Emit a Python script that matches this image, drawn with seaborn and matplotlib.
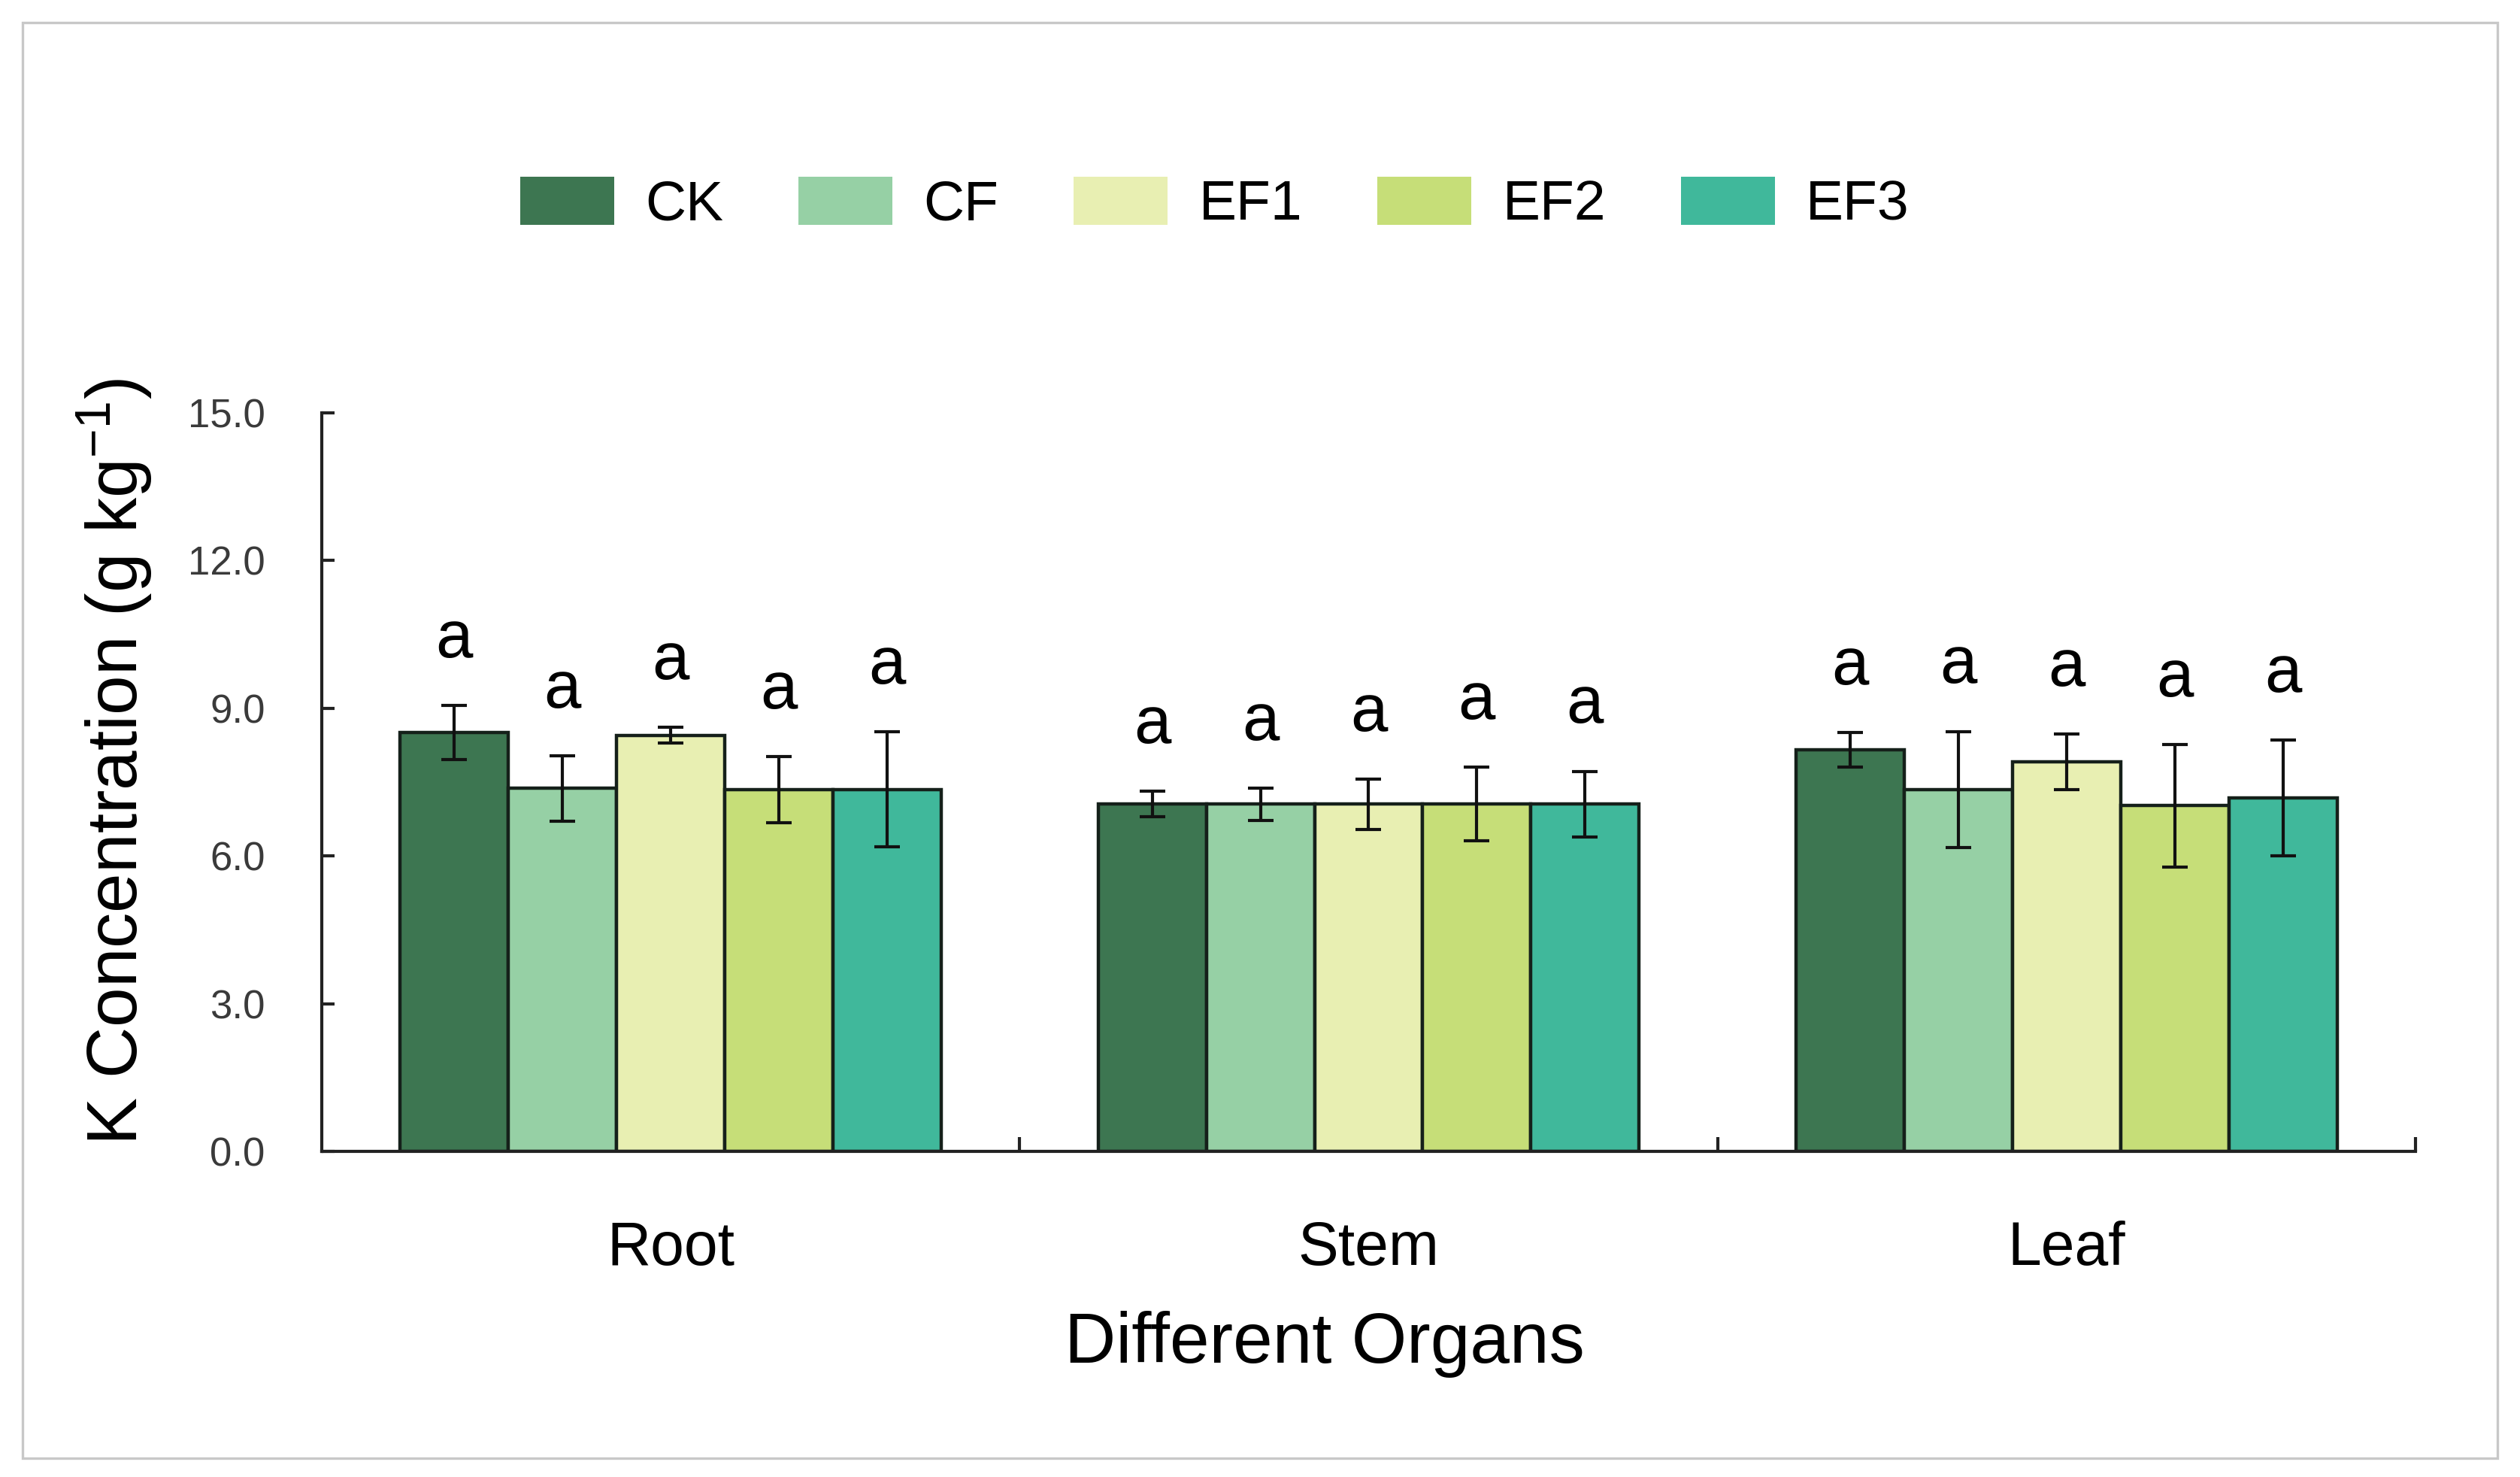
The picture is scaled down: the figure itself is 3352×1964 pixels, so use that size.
import numpy as np
import pandas as pd
import seaborn as sns
import matplotlib.pyplot as plt
from matplotlib.patches import Patch, Rectangle

# data
organs = ['Root', 'Stem', 'Leaf']
treatments = ['CK', 'CF', 'EF1', 'EF2', 'EF3']

ck = [8.50, 7.05, 8.15]
cf = [7.37, 7.05, 7.35]
ef1 = [8.45, 7.05, 7.91]
ef2 = [7.35, 7.05, 7.02]
ef3 = [7.35, 7.05, 7.18]

ck_err = [0.55, 0.26, 0.35]
cf_err = [0.67, 0.33, 1.18]
ef1_err = [0.16, 0.51, 0.57]
ef2_err = [0.67, 0.75, 1.24]
ef3_err = [1.17, 0.67, 1.18]

letters = ['a', 'a', 'a']  # same letters for every treatment

colors = ['#3d7651', '#96d0a5', '#e8efb2', '#c6de78', '#40b89b']

means = [ck, cf, ef1, ef2, ef3]
errs = [ck_err, cf_err, ef1_err, ef2_err, ef3_err]

df = pd.DataFrame({
    'organ': organs * len(treatments),
    'treatment': np.repeat(treatments, len(organs)),
    'value': np.concatenate(means),
    'err': np.concatenate(errs),
})

sns.set_style('ticks')
plt.rcParams['font.family'] = ['Liberation Sans', 'DejaVu Sans']
plt.rcParams['mathtext.fontset'] = 'custom'
plt.rcParams['mathtext.rm'] = 'Liberation Sans'
plt.rcParams['mathtext.default'] = 'regular'
plt.rcParams['text.color'] = 'black'
plt.rcParams['axes.labelcolor'] = 'black'
plt.rcParams['xtick.labelcolor'] = 'black'

fig = plt.figure(figsize=(16.76, 9.82), dpi=200)
ax = fig.add_axes([0.1276, 0.2205, 0.831, 0.50])

sns.barplot(data=df, x='organ', y='value', hue='treatment', order=organs,
            hue_order=treatments, palette=colors, errorbar=None, width=0.775,
            saturation=1, edgecolor='#15201a', linewidth=1.6, legend=False, ax=ax)

# error bars and significance letters on top of each bar
for cont, m, e in zip(ax.containers, means, errs):
    xs = [b.get_x() + b.get_width() / 2 for b in cont]
    ax.errorbar(xs, m, yerr=e, fmt='none', ecolor='#111111', elinewidth=1.5,
                capsize=6, capthick=1.5, zorder=3)
    for x, y, s, l in zip(xs, m, e, letters):
        ax.text(x, y + s + 1.33, l, ha='center', va='center', fontsize=32, color='black')

ax.set_xlim(-0.5, 2.5)
ax.set_ylim(0, 15)
ax.set_yticks(np.arange(0, 15.1, 3))
ax.set_yticklabels([f'{v:.1f}' for v in np.arange(0, 15.1, 3)])
ax.set_xticks([0.5, 1.5, 2.5], minor=True)

for side in ['top', 'right']:
    ax.spines[side].set_visible(False)
for side in ['left', 'bottom']:
    ax.spines[side].set_linewidth(1.5)
    ax.spines[side].set_color('#222222')

ax.tick_params(axis='y', direction='in', length=6, width=1.5, pad=27,
               labelsize=19, labelcolor='#3a3a3a', color='#222222')
ax.tick_params(axis='x', which='major', length=0, pad=33, labelsize=29, labelcolor='black')
ax.tick_params(axis='x', which='minor', direction='in', length=7, width=1.5, color='#222222')

ax.set_ylabel('K Concentration (g kg$^{-1}$)', fontsize=34, color='black')
ax.yaxis.set_label_coords(-0.080, 0.528)
ax.set_xlabel('Different Organs', fontsize=34, va='center', color='black')
ax.xaxis.set_label_coords(0.479, -0.261)

handles = [Patch(facecolor=c, edgecolor='none') for c in colors]
leg = fig.legend(handles, treatments, loc='center', bbox_to_anchor=(0.482, 0.862), ncol=5,
                 frameon=False, fontsize=27, handlelength=1.67, handleheight=0.94,
                 handletextpad=0.55, columnspacing=1.33)
for t in leg.get_texts():
    t.set_color('black')

fig.add_artist(Rectangle((0.009, 0.0127), 0.982, 0.972, transform=fig.transFigure,
                         fill=False, edgecolor='#c8c8c8', linewidth=1.2))

fig.savefig('out.png', dpi=200)
